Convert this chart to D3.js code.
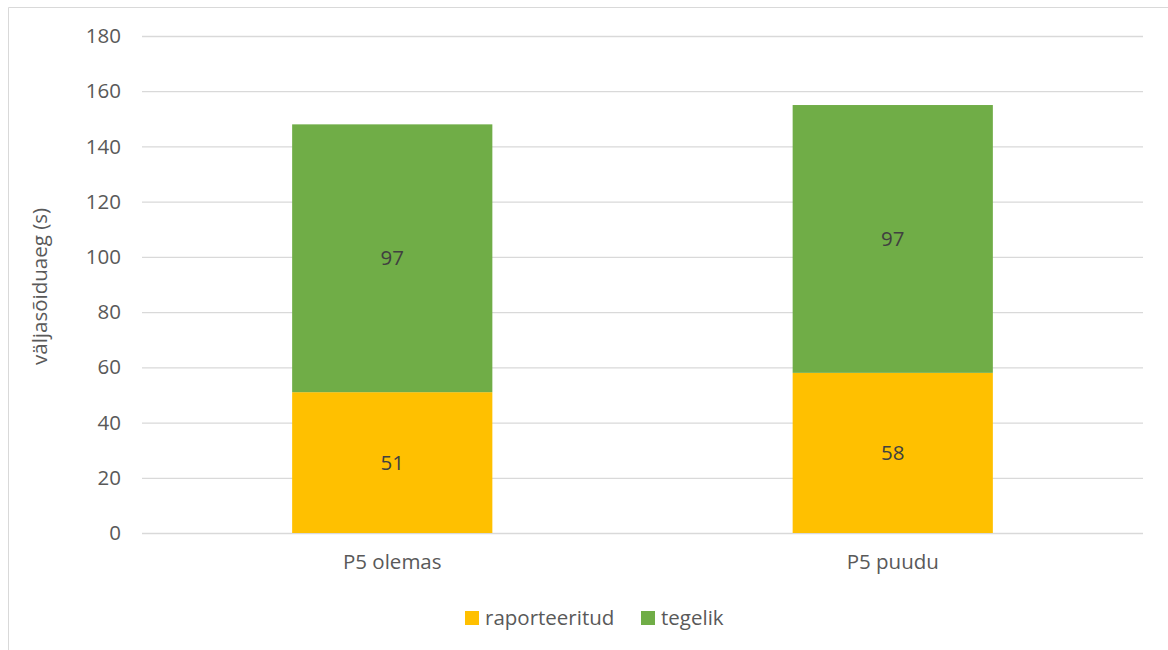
<!DOCTYPE html>
<html>
<head>
<meta charset="utf-8">
<script src="https://cdn.jsdelivr.net/npm/d3@7"></script>
<style>
  html, body { margin: 0; padding: 0; background: #fff; }
  svg { display: block; font-family: "Open Sans", "Noto Sans", sans-serif; }
</style>
</head>
<body>
<svg id="chart" width="1168" height="650"></svg>
<script>
// Stacked bar data: departure time components per scenario
const categories = ["P5 olemas", "P5 puudu"];
const seriesNames = ["raporteeritud", "tegelik"];
const reported = [51, 58];
const actual = [97, 97];
const yTicks = [0, 20, 40, 60, 80, 100, 120, 140, 160, 180];
const colors = ["#FFC000", "#70AD47"];

const fontSize = 20.5;
const svg = d3.select("#chart");
const margin = { left: 142, right: 25, top: 36, bottom: 117 };
const W = 1168, H = 650;
const iw = W - margin.left - margin.right;
const ih = H - margin.top - margin.bottom;

// outer chart frame (left and top edges fall inside the page)
svg.append("path")
  .attr("d", `M8.5,${H}V7.5H${W}`)
  .attr("fill", "none").attr("stroke", "#D9D9D9").attr("stroke-width", 1);

const g = svg.append("g").attr("transform", `translate(${margin.left},${margin.top})`);

const x = d3.scaleBand().domain(categories).range([0, iw]).paddingInner(0.6).paddingOuter(0.3);
const y = d3.scaleLinear().domain([0, 180]).range([ih, 0]);

// gridlines and y tick labels
const yAxis = d3.axisLeft(y).tickValues(yTicks).tickSize(-iw).tickPadding(21);
const ya = g.append("g").call(yAxis);
ya.select(".domain").remove();
ya.selectAll(".tick line").attr("stroke", "#D9D9D9").attr("stroke-width", 1.3);
ya.selectAll(".tick text").attr("fill", "#595959").attr("font-size", fontSize)
  .attr("font-family", "'Open Sans', sans-serif");

// stacked bars
const rows = categories.map((c, i) => ({ cat: c, raporteeritud: reported[i], tegelik: actual[i] }));
const stack = d3.stack().keys(seriesNames)(rows);

const layers = g.selectAll(".layer").data(stack).join("g")
  .attr("class", "layer").attr("fill", (d, i) => colors[i]);

layers.selectAll("rect").data(d => d).join("rect")
  .attr("x", d => x(d.data.cat))
  .attr("width", x.bandwidth())
  .attr("y", d => y(d[1]))
  .attr("height", d => y(d[0]) - y(d[1]));

// value labels centred in each segment
layers.selectAll("text").data(d => d.map(v => Object.assign({ key: d.key }, v))).join("text")
  .attr("x", d => x(d.data.cat) + x.bandwidth() / 2)
  .attr("y", d => (y(d[0]) + y(d[1])) / 2)
  .attr("dy", "0.35em")
  .attr("text-anchor", "middle")
  .attr("fill", "#404040")
  .attr("font-size", fontSize)
  .text(d => d.data[d.key]);

// x axis category labels
const xa = g.append("g").attr("transform", `translate(0,${ih})`)
  .call(d3.axisBottom(x).tickSize(0).tickPadding(21));
xa.select(".domain").remove();
xa.selectAll(".tick text").attr("fill", "#595959").attr("font-size", fontSize)
  .attr("font-family", "'Open Sans', sans-serif");

// y axis title
svg.append("text")
  .attr("transform", `translate(40,${margin.top + ih / 2 + 2}) rotate(-90)`)
  .attr("text-anchor", "middle").attr("dy", "0.35em")
  .attr("fill", "#595959").attr("font-size", fontSize)
  .text("väljasõiduaeg (s)");

// legend
const legend = svg.append("g");
const legendItems = [
  { name: seriesNames[0], color: colors[0], x: 465 },
  { name: seriesNames[1], color: colors[1], x: 641 }
];
legendItems.forEach(it => {
  legend.append("rect").attr("x", it.x).attr("y", 611).attr("width", 14).attr("height", 14).attr("fill", it.color);
  legend.append("text").attr("x", it.x + 20).attr("y", 618).attr("dy", "0.35em")
    .attr("fill", "#595959").attr("font-size", fontSize).text(it.name);
});
</script>
</body>
</html>
